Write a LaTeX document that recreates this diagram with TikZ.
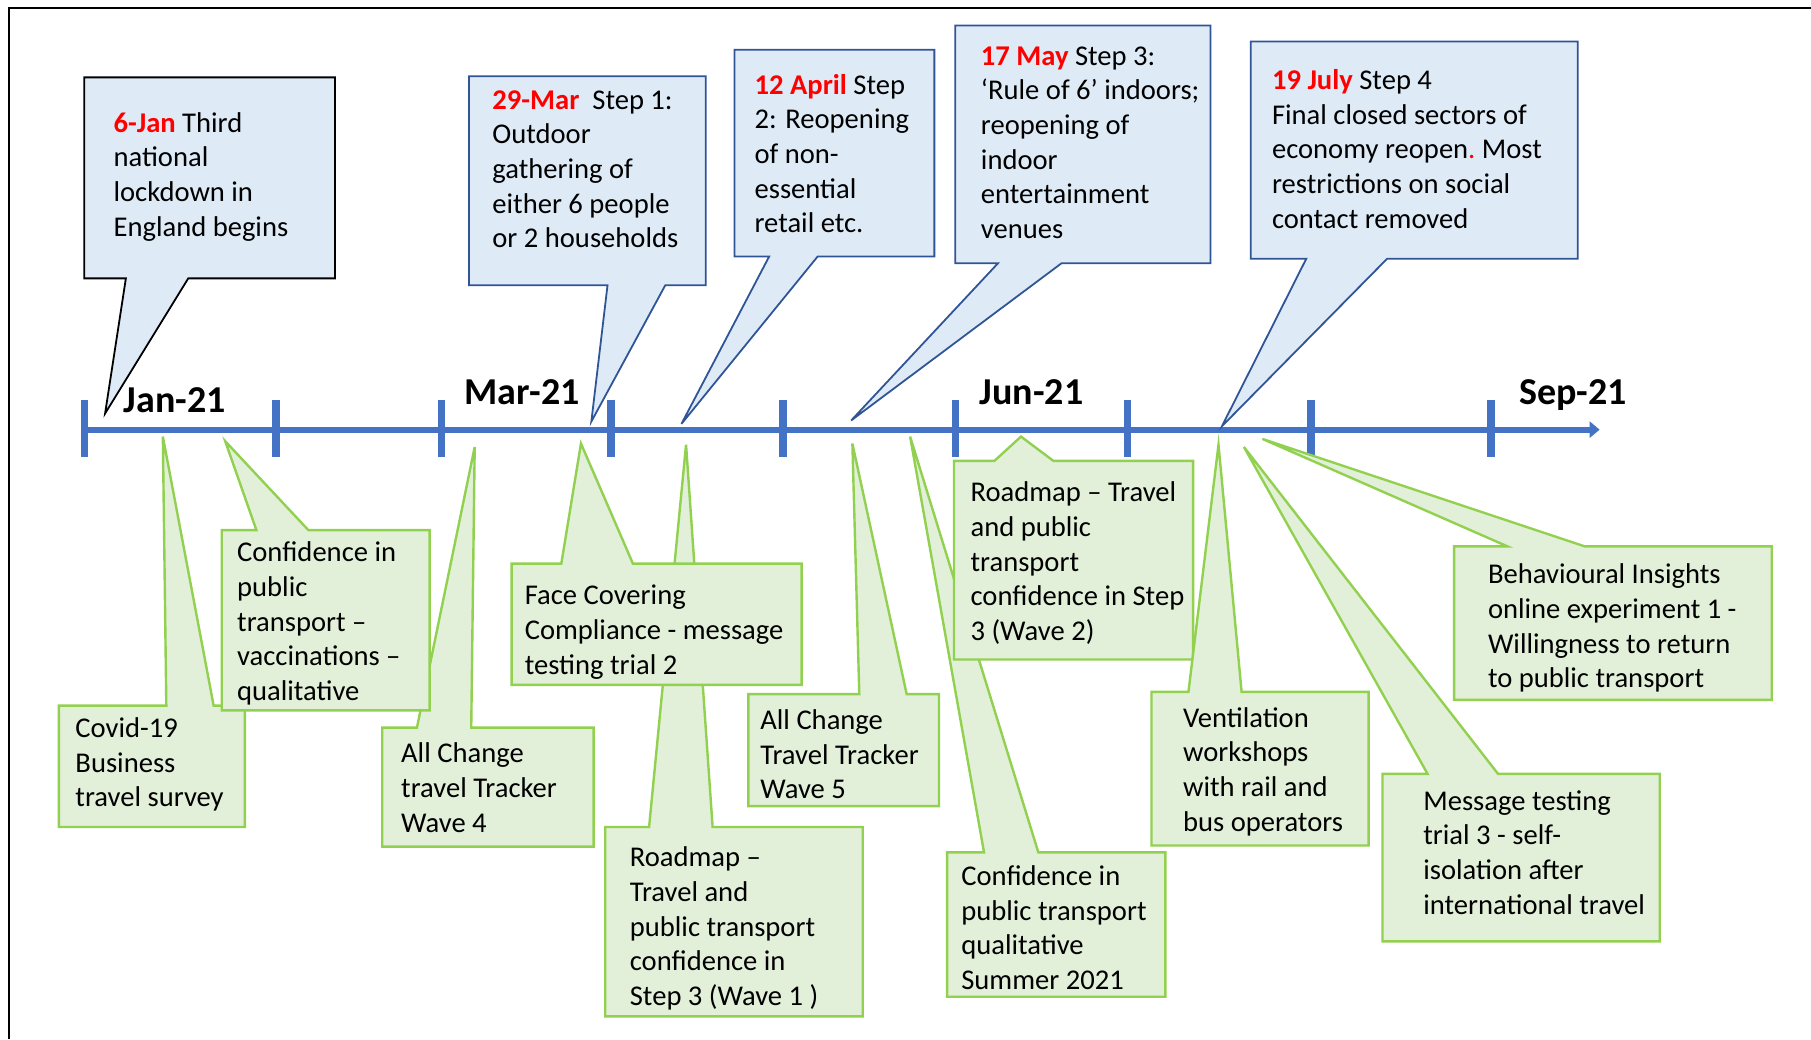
\documentclass[tikz,border=0pt]{standalone}
\usepackage{fontspec}
\setmainfont{Carlito}
\usetikzlibrary{arrows.meta}
\definecolor{axisblue}{HTML}{4472C4}
\definecolor{callblue}{HTML}{DEEBF7}
\definecolor{callbluedraw}{HTML}{2F5597}
\definecolor{callgreen}{HTML}{E2F0D9}
\definecolor{callgreendraw}{HTML}{92D050}
\definecolor{datered}{HTML}{FF0000}
\newcommand\cotext[1]{\begin{tabular}[t]{@{}l@{}}#1\end{tabular}}
\newcommand\dte[1]{\textbf{\color{datered}#1}}
% callout with tail below: style, x1,y1,x2,y2, base-left, base-right, tipx, tipy
\newcommand\downcall[9]{\path[#1] (#2,#3) -- (#4,#3) -- (#4,#5) -- (#7,#5) -- (#8,#9) -- (#6,#5) -- (#2,#5) -- cycle;}
% callout with tail above
\newcommand\upcallout[9]{\path[#1] (#2,#3) -- (#6,#3) -- (#8,#9) -- (#7,#3) -- (#4,#3) -- (#4,#5) -- (#2,#5) -- cycle;}
\begin{document}
\begin{tikzpicture}[x=0.5775pt,y=-0.5775pt,
  bluecall/.style={fill=callblue,draw=callbluedraw,line width=0.9pt,line join=miter},
  blackcall/.style={fill=callblue,draw=black,line width=0.9pt,line join=miter},
  greencall/.style={fill=callgreen,draw=callgreendraw,line width=1.2pt,line join=miter},
  calltext/.style={anchor=base west,inner sep=0pt,yshift=-0.9pt,font=\fontsize{14.3}{17.33}\selectfont},
  axislabel/.style={anchor=base west,inner sep=0pt,font=\fontsize{19}{22}\selectfont\bfseries},
  axline/.style={draw=axisblue,line width=3pt},
  axtick/.style={draw=axisblue,line width=3.6pt},
  frameline/.style={draw=black,line width=1.2pt}]
\useasboundingbox (0,0) rectangle (1568,900);
% frame
\coordinate (fl) at (8,900);
\coordinate (fc) at (8,7);
\coordinate (fr) at (1568,7);
\draw[frameline] (fl) -- (fc) -- (fr);
% axis
\coordinate (axs) at (73,372);
\coordinate (axe) at (1385,372);
\draw[axline,-{Triangle[length=5pt,width=8pt]}] (axs) -- (axe);
\foreach \tx in {73,239,382,529,678,827,976,1135,1291}{
  \draw[axtick] (\tx,346) -- (\tx,396);
}
\node[axislabel] (lj) at (107,357) {Jan-21};
\node[axislabel] (lm) at (402,350) {Mar-21};
\node[axislabel] (lu) at (848,350) {Jun-21};
\node[axislabel] (ls) at (1315,350) {Sep-21};
% blue callouts
\downcall{blackcall}{73}{67}{290}{241}{109}{163}{91}{358}
\node[calltext] (b1) at (98,113) {\cotext{\dte{6-Jan} Third\\national\\lockdown in\\England begins}};
\downcall{bluecall}{406}{66}{611}{247}{526}{576}{512}{365}
\node[calltext] (b2) at (426,93) {\cotext{\dte{29-Mar}\ \ Step 1:\\Outdoor\\gathering of\\either 6 people\\or 2 households}};
\downcall{bluecall}{636}{43}{809}{222}{666}{708}{590}{367}
\node[calltext] (b3) at (653,80) {\cotext{\dte{12 April} Step\\2: Reopening\\of non-\\essential\\retail etc.}};
\downcall{bluecall}{827}{22}{1048}{228}{864}{919}{737}{364}
\node[calltext] (b4) at (849,55) {\cotext{\dte{17 May} Step 3:\\‘Rule of 6’ indoors;\\reopening of\\indoor\\entertainment\\venues}};
\downcall{bluecall}{1083}{36}{1366}{224}{1131}{1201}{1058}{369}
\node[calltext] (b5) at (1101,76) {\cotext{\dte{19 July} Step 4\\Final closed sectors of\\economy reopen{\color{datered}.}\ Most\\restrictions on social\\contact removed}};
% green callouts
\upcallout{greencall}{331}{630}{514}{733}{361}{408}{411}{387}
\node[calltext] (g3) at (347,659) {\cotext{All Change\\travel Tracker\\Wave 4}};
\upcallout{greencall}{51}{611}{212}{716}{144}{185}{141}{378}
\node[calltext] (g1) at (65,637) {\cotext{Covid-19\\Business\\travel survey}};
\upcallout{greencall}{192}{459}{372}{615}{222}{267}{195}{382}
\node[calltext] (g2) at (205,485) {\cotext{Confidence in\\public\\transport –\\vaccinations –\\qualitative}};
\upcallout{greencall}{524}{716}{747}{880}{562}{617}{594}{385}
\node[calltext] (g5) at (545,749) {\cotext{Roadmap –\\Travel and\\public transport\\confidence in\\Step 3 (Wave 1 )}};
\upcallout{greencall}{443}{488}{694}{593}{486}{548}{503}{384}
\node[calltext] (g4) at (454,522) {\cotext{Face Covering\\Compliance - message\\testing trial 2}};
\upcallout{greencall}{648}{601}{813}{698}{744}{785}{738}{384}
\node[calltext] (g6) at (658,630) {\cotext{All Change\\Travel Tracker\\Wave 5}};
\upcallout{greencall}{820}{738}{1009}{863}{852}{899}{788}{378}
\node[calltext] (g8) at (832,765) {\cotext{Confidence in\\public transport\\qualitative\\Summer 2021}};
\upcallout{greencall}{826}{399}{1033}{571}{861}{912}{884}{378}
\node[calltext] (g7) at (840,433) {\cotext{Roadmap – Travel\\and public\\transport\\confidence in Step\\3 (Wave 2)}};
\upcallout{greencall}{997}{599}{1185}{732}{1029}{1075}{1055}{385}
\node[calltext] (g9) at (1024,628) {\cotext{Ventilation\\workshops\\with rail and\\bus operators}};
\upcallout{greencall}{1197}{670}{1437}{815}{1236}{1297}{1077}{387}
\node[calltext] (g10) at (1232,700) {\cotext{Message testing\\trial 3 - self-\\isolation after\\international travel}};
\upcallout{greencall}{1259}{473}{1534}{606}{1305}{1372}{1093}{380}
\node[calltext] (g11) at (1288,504) {\cotext{Behavioural Insights\\online experiment 1 -\\Willingness to return\\to public transport}};
\end{tikzpicture}
\end{document}
